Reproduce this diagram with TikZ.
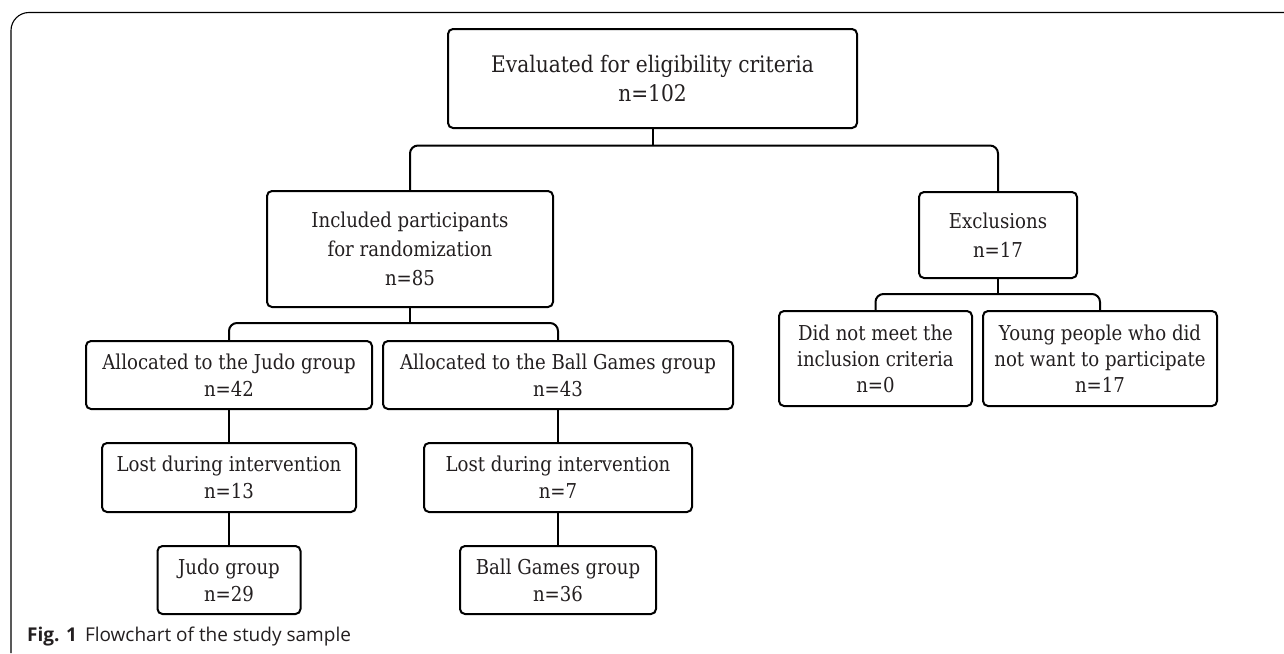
\documentclass[tikz,border=0pt]{standalone}
\usepackage{fontspec}
\setmainfont{DejaVu Serif}[FakeStretch=0.885]
\newfontfamily\capfont{Open Sans}
\usepackage{tikz}
\usetikzlibrary{positioning}

\definecolor{inkgray}{HTML}{231F20}

\begin{document}
\begin{tikzpicture}[x=1pt, y=-1pt,
  box/.style={draw, line width=2pt, rounded corners=5pt, align=center,
    inner sep=0pt, text=inkgray, font=\fontsize{20.5}{27}\selectfont},
  link/.style={draw, line width=2pt},
  elbow/.style={link, rounded corners=8pt}]
\useasboundingbox (0,0) rectangle (1284,653);

% Frame
\draw[line width=1.1pt, rounded corners=18pt] (11,653) -- (11,12.5) -- (1284,12.5);

% Eligibility
\node[box, minimum width=409pt, minimum height=99pt, font=\fontsize{22.8}{29.5}\selectfont] (eval) at (652.5,78.5)
  {Evaluated for eligibility criteria\\n=102};

% Included and excluded
\node[box, minimum width=286pt, minimum height=116pt, font=\fontsize{20.5}{29}\selectfont] (incl) at (410,249)
  {Included participants\\for randomization\\n=85};
\node[box, minimum width=158pt, minimum height=86pt, font=\fontsize{20.5}{29.5}\selectfont] (excl) at (998,235)
  {Exclusions\\n=17};

% Exclusion reasons
\node[box, minimum width=193pt, minimum height=95pt, font=\fontsize{20.5}{26}\selectfont] (notmet) at (875.5,358.5)
  {Did not meet the\\inclusion criteria\\n=0};
\node[box, minimum width=234pt, minimum height=95pt, font=\fontsize{20.5}{26}\selectfont] (young) at (1100,358.5)
  {Young people who did\\not want to participate\\n=17};

% Allocation
\node[box, minimum width=286pt, minimum height=68pt] (judoalloc) at (229,375)
  {Allocated to the Judo group\\n=42};
\node[box, minimum width=350pt, minimum height=68pt] (ballalloc) at (558,375)
  {Allocated to the Ball Games group\\n=43};

% Losses
\node[box, minimum width=254pt, minimum height=69pt] (judolost) at (229,477.5)
  {Lost during intervention\\n=13};
\node[box, minimum width=268pt, minimum height=69pt] (balllost) at (558,477.5)
  {Lost during intervention\\n=7};

% Final groups
\node[box, minimum width=143pt, minimum height=68pt] (judogrp) at (229,580)
  {Judo group\\n=29};
\node[box, minimum width=196pt, minimum height=68pt] (ballgrp) at (558,580)
  {Ball Games group\\n=36};

% Connectors
\coordinate (bareval) at (652.5,145.5);
\coordinate (barexcl) at (998,294);
\coordinate (barincl) at (410,323);
\draw[link] (eval.south) -- (bareval);
\draw[elbow] (incl.north) |- (bareval) -| (excl.north);
\draw[link] (excl.south) -- (barexcl);
\draw[elbow] (notmet.north) |- (barexcl) -| (young.north);
\draw[link] (incl.south) -- (barincl);
\draw[elbow] (judoalloc.north) |- (barincl) -| (ballalloc.north);
\draw[link] (judoalloc.south) -- (judolost.north);
\draw[link] (judolost.south) -- (judogrp.north);
\draw[link] (ballalloc.south) -- (balllost.north);
\draw[link] (balllost.south) -- (ballgrp.north);

% Caption
\node[anchor=west, inner sep=0pt, text=inkgray, font=\capfont\fontsize{19}{22}\selectfont] (caption) at (27,637)
  {\textbf{Fig. 1}\hspace{8pt}Flowchart of the study sample};
\end{tikzpicture}
\end{document}
